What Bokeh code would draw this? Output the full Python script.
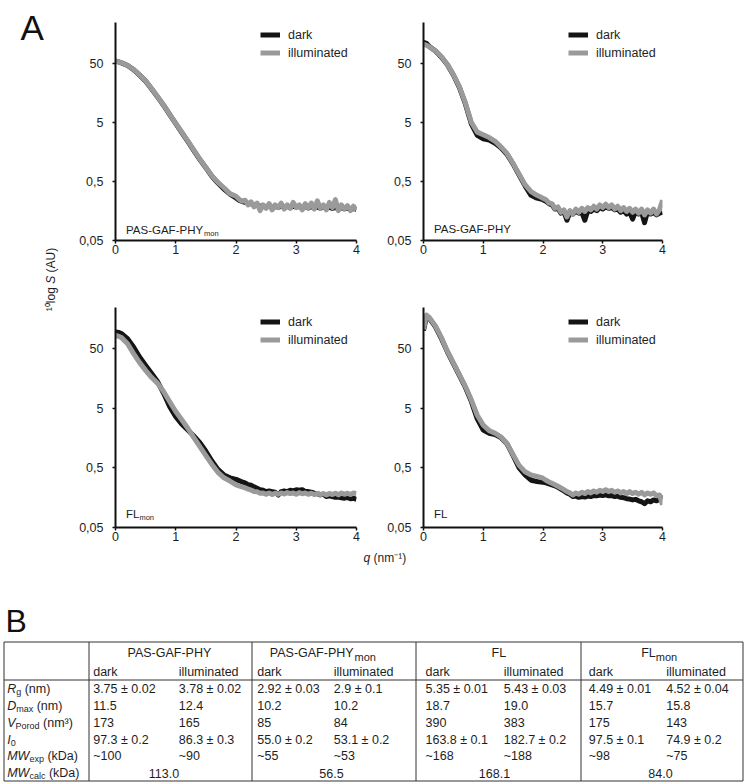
import numpy as np
from bokeh.plotting import figure
from bokeh.models import Range1d, FixedTicker, Legend, LegendItem, Label, ColumnDataSource
from bokeh.layouts import row, column
from bokeh.core.properties import value
from bokeh.embed import file_html
from bokeh.resources import INLINE

FONT = "Liberation Sans"

# ---------------- data ----------------
Q = [0.0, 0.05, 0.1, 0.2, 0.3, 0.4, 0.5, 0.6, 0.7, 0.8, 0.9, 1.0, 1.1, 1.2, 1.3, 1.4, 1.5,
     1.6, 1.7, 1.8, 1.9, 2.0,
     2.05, 2.1, 2.15, 2.2, 2.25, 2.3, 2.35, 2.4, 2.45, 2.5, 2.55, 2.6, 2.65, 2.7, 2.75, 2.8,
     2.85, 2.9, 2.95, 3.0, 3.05, 3.1, 3.15, 3.2, 3.25, 3.3, 3.35, 3.4, 3.45, 3.5, 3.55, 3.6,
     3.65, 3.7, 3.75, 3.8, 3.85, 3.9, 3.95, 4.0]

PGPMON_DARK = [54, 52.3, 50.5, 45.5, 38.8, 31.3, 24.8, 18.3, 13.3, 9.6, 6.7, 4.75, 3.35, 2.38,
               1.66, 1.17, 0.85, 0.61, 0.47, 0.37, 0.305, 0.262,
               0.24, 0.228, 0.222, 0.212, 0.208, 0.2, 0.198, 0.19, 0.192, 0.186, 0.19, 0.184,
               0.188, 0.182, 0.19, 0.184, 0.188, 0.18, 0.19, 0.183, 0.188, 0.18, 0.186, 0.178,
               0.185, 0.18, 0.184, 0.176, 0.183, 0.178, 0.182, 0.175, 0.18, 0.174, 0.178, 0.172,
               0.176, 0.17, 0.174, 0.168]
PGPMON_ILL = [54, 52.5, 50.7, 45.7, 39, 31.5, 25, 18.5, 13.5, 9.7, 6.8, 4.8, 3.4, 2.42,
              1.69, 1.19, 0.86, 0.62, 0.48, 0.39, 0.31, 0.28,
              0.25, 0.23, 0.24, 0.2, 0.225, 0.185, 0.215, 0.16, 0.2, 0.175, 0.21, 0.165,
              0.2, 0.18, 0.215, 0.17, 0.2, 0.175, 0.22, 0.18, 0.2, 0.165, 0.21, 0.175,
              0.215, 0.17, 0.235, 0.175, 0.2, 0.165, 0.22, 0.18, 0.245, 0.16, 0.2, 0.17,
              0.195, 0.16, 0.19, 0.165]

PGP_DARK = [112, 108, 95, 80, 63, 47, 31.5, 19.5, 10.3, 4.7, 3.0, 2.63, 2.5, 2.2, 1.83, 1.42,
            0.98, 0.64, 0.42, 0.29, 0.26, 0.245,
            0.23, 0.21, 0.2, 0.17, 0.175, 0.145, 0.155, 0.11, 0.15, 0.14, 0.155, 0.145, 0.15,
            0.11, 0.16, 0.155, 0.17, 0.16, 0.18, 0.17, 0.185, 0.175, 0.18, 0.165, 0.17, 0.15,
            0.16, 0.14, 0.15, 0.115, 0.155, 0.14, 0.15, 0.1, 0.155, 0.14, 0.15, 0.135, 0.145,
            0.15]
PGP_ILL = [105, 100, 94, 80, 64, 47.5, 32, 20, 10.7, 5.0, 3.4, 3.06, 2.75, 2.38, 1.9, 1.47,
           1.0, 0.66, 0.44, 0.335, 0.29, 0.26,
           0.245, 0.215, 0.21, 0.175, 0.185, 0.15, 0.165, 0.125, 0.16, 0.14, 0.17, 0.15, 0.175,
           0.155, 0.18, 0.165, 0.19, 0.17, 0.2, 0.18, 0.205, 0.18, 0.2, 0.17, 0.19, 0.16, 0.18,
           0.155, 0.175, 0.15, 0.17, 0.145, 0.17, 0.135, 0.165, 0.145, 0.17, 0.14, 0.165, 0.24]

FLMON_DARK = [95, 93, 89, 73, 53, 36, 26, 19, 13.8, 8.8, 5.3, 3.6, 2.7, 2.16, 1.71, 1.32, 0.95,
              0.65, 0.47, 0.38, 0.34, 0.32,
              0.305, 0.29, 0.28, 0.262, 0.255, 0.24, 0.228, 0.215, 0.21, 0.2, 0.205, 0.2, 0.195,
              0.175, 0.2, 0.205, 0.2, 0.21, 0.205, 0.214, 0.21, 0.215, 0.2, 0.2, 0.195, 0.188,
              0.185, 0.176, 0.18, 0.165, 0.17, 0.165, 0.16, 0.162, 0.158, 0.155, 0.16, 0.152,
              0.155, 0.148]
FLMON_ILL = [83.5, 80, 76, 60, 41, 29, 21.5, 16.3, 13, 9.4, 6.4, 4.4, 3.2, 2.3, 1.6, 1.13, 0.8,
             0.57, 0.42, 0.34, 0.30, 0.26,
             0.25, 0.24, 0.232, 0.22, 0.212, 0.2, 0.198, 0.188, 0.19, 0.18, 0.19, 0.178, 0.188,
             0.18, 0.19, 0.182, 0.192, 0.185, 0.19, 0.18, 0.192, 0.184, 0.19, 0.18, 0.188, 0.178,
             0.186, 0.178, 0.185, 0.175, 0.186, 0.178, 0.188, 0.176, 0.19, 0.18, 0.188, 0.178,
             0.19, 0.185]

FL_DARK = [100, 170, 158, 115, 73, 44, 28, 17.8, 11.2, 6.5, 3.3, 2.15, 1.9, 1.8, 1.6, 1.25,
           0.8, 0.5, 0.38, 0.31, 0.295, 0.285,
           0.28, 0.27, 0.26, 0.25, 0.235, 0.22, 0.205, 0.19, 0.18, 0.165, 0.168, 0.16, 0.165,
           0.162, 0.168, 0.165, 0.172, 0.17, 0.175, 0.172, 0.176, 0.17, 0.172, 0.165, 0.168,
           0.16, 0.158, 0.152, 0.15, 0.145, 0.148, 0.14, 0.135, 0.125, 0.14, 0.135, 0.145,
           0.14, 0.15, 0.175]
FL_ILL = [105, 182, 164, 119, 76, 45, 28.6, 18.2, 11.6, 6.9, 3.8, 2.6, 2.1, 1.9, 1.63, 1.26,
          0.83, 0.55, 0.43, 0.38, 0.36, 0.335,
          0.31, 0.29, 0.275, 0.26, 0.245, 0.23, 0.215, 0.2, 0.19, 0.175, 0.19, 0.18, 0.195,
          0.185, 0.2, 0.19, 0.205, 0.195, 0.21, 0.2, 0.215, 0.2, 0.21, 0.195, 0.205, 0.19, 0.2,
          0.185, 0.2, 0.185, 0.195, 0.18, 0.195, 0.175, 0.19, 0.18, 0.19, 0.17, 0.175, 0.12]

Y_TICKS = [0.05, 0.5, 5, 50]
Y_TICK_LABELS = ["0,05", "0,5", "5", "50"]
X_TICKS = [0, 1, 2, 3, 4]

# table
CONSTRUCTS = ["PAS-GAF-PHY", "PAS-GAF-PHY", "FL", "FL"]
CONSTRUCT_SUB = ["", "mon", "", "mon"]
STATES = ["dark", "illuminated"]
PARAM_MAIN = ["R", "D", "V", "I", "MW", "MW"]
PARAM_SUB = ["g", "max", "Porod", "0", "exp", "calc"]
PARAM_UNIT = ["(nm)", "(nm)", "(nm³)", "", "(kDa)", "(kDa)"]
RG = ["3.75 ± 0.02", "3.78 ± 0.02", "2.92 ± 0.03", "2.9 ± 0.1",
      "5.35 ± 0.01", "5.43 ± 0.03", "4.49 ± 0.01", "4.52 ± 0.04"]
DMAX = ["11.5", "12.4", "10.2", "10.2", "18.7", "19.0", "15.7", "15.8"]
VPOROD = ["173", "165", "85", "84", "390", "383", "175", "143"]
I0 = ["97.3 ± 0.2", "86.3 ± 0.3", "55.0 ± 0.2", "53.1 ± 0.2",
      "163.8 ± 0.1", "182.7 ± 0.2", "97.5 ± 0.1", "74.9 ± 0.2"]
MWEXP = ["~100", "~90", "~55", "~53", "~168", "~188", "~98", "~75"]
MWCALC = ["113.0", "56.5", "168.1", "84.0"]

# ---------------- helpers ----------------
AW = {' ': 278, '(': 333, ')': 333, '-': 333, ',': 278, '.': 278, '~': 584, '±': 584,
      'A': 667, 'B': 667, 'D': 722, 'F': 611, 'G': 778, 'H': 722, 'I': 278, 'L': 556,
      'M': 833, 'P': 667, 'R': 722, 'S': 667, 'V': 667, 'W': 944, 'Y': 667, 'a': 556,
      'c': 500, 'd': 556, 'e': 556, 'g': 556, 'i': 222, 'k': 500, 'l': 222, 'm': 833,
      'n': 556, 'o': 556, 'p': 556, 'q': 556, 'r': 333, 't': 278, 'u': 556, 'x': 500,
      '³': 333, '¹': 333, '⁰': 333, '⁻': 333}


def tw(s, size):
    return sum(AW.get(c, 556) for c in s) * size / 1000.0


DARK_C = "#141414"
ILL_C = "#9a9a9a"
TXT_C = "#1e1e1e"
PX_PER_Q = 241 / 4.0


def panel(dark, ill, width, bl, br, height, bt, bb, name, sub, lab_dy, dec_px):
    p = figure(width=width, height=height, y_axis_type="log",
               x_range=Range1d(0, 4), y_range=Range1d(0.05, 243),
               output_backend="svg", toolbar_location=None,
               min_border_left=bl, min_border_right=br, min_border_top=bt, min_border_bottom=bb)
    p.outline_line_color = None
    p.grid.visible = False
    rd = p.line(Q, dark, line_color=DARK_C, line_width=5, line_join="round")
    ri = p.line(Q, ill, line_color=ILL_C, line_width=5, line_join="round")
    for ax in (p.xaxis[0], p.yaxis[0]):
        ax.axis_line_width = 2
        ax.axis_line_color = "#111111"
        ax.major_tick_line_width = 1.5
        ax.major_tick_line_color = "#111111"
        ax.major_tick_in = 0
        ax.major_tick_out = 3
        ax.minor_tick_line_color = None
        ax.major_label_text_font = FONT
        ax.major_label_text_font_size = "12.5px"
        ax.major_label_text_color = TXT_C
    p.xaxis.ticker = FixedTicker(ticks=X_TICKS)
    p.xaxis.major_label_standoff = 1
    p.yaxis.ticker = FixedTicker(ticks=Y_TICKS)
    p.yaxis.major_label_overrides = {float(t): l for t, l in zip(Y_TICKS, Y_TICK_LABELS)}
    p.yaxis.major_label_standoff = 9

    leg = Legend(items=[LegendItem(label="dark", renderers=[rd]),
                        LegendItem(label="illuminated", renderers=[ri])],
                 location=(145, 180), orientation="vertical",
                 background_fill_alpha=0, border_line_alpha=0, padding=0, margin=0,
                 spacing=3, glyph_width=20, glyph_height=15, label_height=15,
                 label_standoff=8, label_text_font=FONT, label_text_font_size="12.5px",
                 label_text_color=TXT_C)
    p.add_layout(leg)

    lx = 10.5 / PX_PER_Q
    ly = 0.05 * 10 ** (lab_dy / dec_px)
    p.add_layout(Label(x=lx, y=ly, text=name, text_font=FONT, text_font_size="11.5px",
                       text_color=TXT_C, text_baseline="middle", text_align="left"))
    if sub:
        sx = lx + tw(name, 11.5) / PX_PER_Q
        sy = 0.05 * 10 ** ((lab_dy - 3.5) / dec_px)
        p.add_layout(Label(x=sx, y=sy, text=sub, text_font=FONT, text_font_size="7.5px",
                           text_color=TXT_C, text_baseline="middle", text_align="left"))
    return p


# page has no margin: frames at x 115..356 / 421..662, y 22..240 / 307..527
f1 = panel(PGPMON_DARK, PGPMON_ILL, 324, 55, 28, 267, 22, 27, "PAS-GAF-PHY", "mon", 11, 59.5)
f2 = panel(PGP_DARK, PGP_ILL, 361, 37, 83, 267, 22, 27, "PAS-GAF-PHY", "", 12, 59.5)
f3 = panel(FLMON_DARK, FLMON_ILL, 324, 55, 28, 280, 40, 20, "FL", "mon", 14, 59.8)
f4 = panel(FL_DARK, FL_ILL, 361, 37, 83, 280, 40, 20, "FL", "", 13.5, 59.8)


def blank(width, height):
    p = figure(width=width, height=height, x_range=Range1d(0, width), y_range=Range1d(height, 0),
               output_backend="svg", toolbar_location=None, min_border=0,
               x_axis_location=None, y_axis_location=None)
    p.outline_line_color = None
    p.grid.visible = False
    return p


# left strip: panel letter A + shared y label
lf = blank(60, 547)
lf.add_layout(Label(x=20, y=27, text="A", text_font=FONT, text_font_size="35px",
                    text_color="#111111", text_baseline="alphabetic"))
ylab = [("¹⁰log", "normal", 0.0), ("S", "italic", tw(" ", 12)), ("(AU)", "normal", tw(" ", 12))]
total = sum(tw(s, 12) + gap for s, _, gap in ylab)
ypos = 280 + total / 2
for s, st, gap in ylab:
    ypos -= gap
    lf.add_layout(Label(x=50, y=ypos, text=s, angle=np.pi / 2, text_font=FONT,
                        text_font_size="12px", text_font_style=st, text_color=TXT_C,
                        text_baseline="middle", text_align="left"))
    ypos -= tw(s, 12)

# table figure (page y 547..783)
tf = blank(745, 236)
xl = 363
tf.add_layout(Label(x=xl, y=10, text="q", text_font=FONT, text_font_size="12px",
                    text_font_style="italic", text_color=TXT_C, text_baseline="middle"))
tf.add_layout(Label(x=xl + tw("q ", 12), y=10, text="(nm⁻¹)", text_font=FONT,
                    text_font_size="12px", text_color=TXT_C, text_baseline="middle"))
tf.add_layout(Label(x=5, y=73, text="B", text_font=FONT, text_font_size="32px",
                    text_color="#111111", text_baseline="alphabetic"))

TOP, HLINE, BOT = 94.5, 132.5, 233.5
VLINES = [3.5, 88.5, 251.5, 415.5, 580.5, 742.5]
Y_H1, Y_H2 = 105.7, 124
ROW_Y = [141.7, 158.3, 175.3, 192, 208.7, 225.7]
COL_X = [92.7, 178.3, 256.7, 333.3, 425, 503.3, 588.3, 665.7]
HEAD_X = [127, 269.3, 491, 640.7]
CALC_X = [163.5, 331, 494, 660]
FS = 12.5

segs = dict(x0=[VLINES[0], VLINES[0], VLINES[0]] + VLINES,
            x1=[VLINES[-1], VLINES[-1], VLINES[-1]] + VLINES,
            y0=[TOP, HLINE, BOT] + [TOP] * len(VLINES),
            y1=[TOP, HLINE, BOT] + [BOT] * len(VLINES))
tf.segment(x0="x0", y0="y0", x1="x1", y1="y1", source=ColumnDataSource(segs),
           line_color="#333333", line_width=1)

tkw = dict(text_font=value(FONT), text_font_size=f"{FS}px", text_color=TXT_C,
           text_baseline="middle", text_align="left")

# header rows
hx, hy, ht = [], [], []
sx, sy, st = [], [], []
for i, (c, s) in enumerate(zip(CONSTRUCTS, CONSTRUCT_SUB)):
    hx.append(HEAD_X[i]); hy.append(Y_H1); ht.append(c)
    if s:
        sx.append(HEAD_X[i] + tw(c, FS)); sy.append(Y_H1 + 3.5); st.append(s)
for j in range(8):
    hx.append(COL_X[j]); hy.append(Y_H2); ht.append(STATES[j % 2])
tf.text(x="x", y="y", text="t", source=ColumnDataSource(dict(x=hx, y=hy, t=ht)), **tkw)
tf.text(x="x", y="y", text="t", source=ColumnDataSource(dict(x=sx, y=sy, t=st)),
        text_font=value(FONT), text_font_size="11px", text_color=TXT_C,
        text_baseline="middle", text_align="left")

# parameter labels
mx, my, mt, bx, by, bt_, ux, uy, ut = [], [], [], [], [], [], [], [], []
for i, (m, s, u) in enumerate(zip(PARAM_MAIN, PARAM_SUB, PARAM_UNIT)):
    x0 = 6.7
    mx.append(x0); my.append(ROW_Y[i]); mt.append(m)
    bx.append(x0 + tw(m, FS)); by.append(ROW_Y[i] + 3); bt_.append(s)
    if u:
        ux.append(x0 + tw(m, FS) + tw(s, 9) + tw(" ", FS)); uy.append(ROW_Y[i]); ut.append(u)
tf.text(x="x", y="y", text="t", source=ColumnDataSource(dict(x=mx, y=my, t=mt)),
        text_font_style="italic", **tkw)
tf.text(x="x", y="y", text="t", source=ColumnDataSource(dict(x=bx, y=by, t=bt_)),
        text_font=value(FONT), text_font_size="9px", text_color=TXT_C,
        text_baseline="middle", text_align="left")
tf.text(x="x", y="y", text="t", source=ColumnDataSource(dict(x=ux, y=uy, t=ut)), **tkw)

# values
vx, vy, vt = [], [], []
for r, vals in enumerate([RG, DMAX, VPOROD, I0, MWEXP]):
    for j, v in enumerate(vals):
        vx.append(COL_X[j]); vy.append(ROW_Y[r]); vt.append(v)
tf.text(x="x", y="y", text="t", source=ColumnDataSource(dict(x=vx, y=vy, t=vt)), **tkw)
tf.text(x="x", y="y", text="t",
        source=ColumnDataSource(dict(x=CALC_X, y=[ROW_Y[5]] * 4, t=MWCALC)),
        text_font=value(FONT), text_font_size=f"{FS}px", text_color=TXT_C,
        text_baseline="middle", text_align="center")

layout = column(row(lf, column(row(f1, f2), row(f3, f4))), tf)
open("out.html", "w").write(file_html(layout, INLINE))
